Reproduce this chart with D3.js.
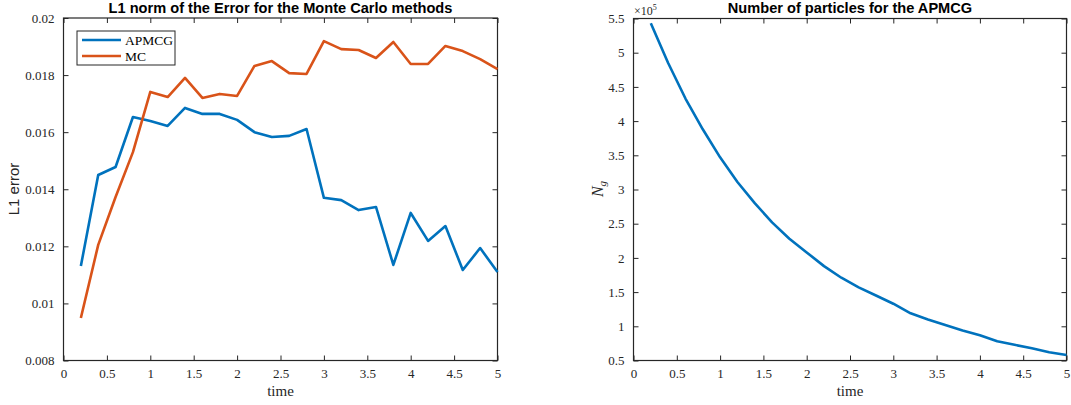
<!DOCTYPE html>
<html><head><meta charset="utf-8">
<script src="https://cdn.jsdelivr.net/npm/d3@7"></script>
<style>
body{margin:0;background:#fff;}
svg{display:block;}
</style></head>
<body>
<svg id="c" width="1071" height="405"></svg>
<script>
const times = [0.2,0.4,0.6,0.8,1.0,1.2,1.4,1.6,1.8,2.0,2.2,2.4,2.6,2.8,3.0,3.2,3.4,3.6,3.8,4.0,4.2,4.4,4.6,4.8,5.0];
const apmcgError = [0.01131,0.0145,0.01478,0.01653,0.01639,0.01622,0.01685,0.01664,0.01664,0.01643,0.0160,0.01583,0.01587,0.01611,0.0137,0.01362,0.01327,0.01338,0.01135,0.01317,0.01219,0.01271,0.01117,0.01194,0.0111];
const mcError = [0.00949,0.01205,0.01373,0.0153,0.01741,0.01723,0.0179,0.0172,0.01734,0.01727,0.01832,0.01849,0.01807,0.01804,0.01919,0.01891,0.01888,0.0186,0.01916,0.01839,0.01839,0.01902,0.01884,0.01856,0.01821];
const particles = [5.43,4.85,4.33,3.88,3.47,3.11,2.80,2.52,2.28,2.08,1.88,1.71,1.57,1.45,1.33,1.19,1.10,1.02,0.94,0.87,0.78,0.73,0.68,0.62,0.58]; // x 1e5
const xTicks = [0,0.5,1,1.5,2,2.5,3,3.5,4,4.5,5];
const leftYTicks = [0.008,0.01,0.012,0.014,0.016,0.018,0.02];
const rightYTicks = [0.5,1,1.5,2,2.5,3,3.5,4,4.5,5,5.5];
const seriesNames = ["APMCG","MC"];
const colors = ["#0072BD","#D95319"];

const svg = d3.select("#c");
const axisColor = "#262626";
const serif = "Liberation Serif, Times New Roman, serif";
const sans = "Liberation Sans, Arial, sans-serif";

function panel(x0, x1, y0, y1, xDom, yDom, yTicks, yFmt) {
  const g = svg.append("g");
  const x = d3.scaleLinear().domain(xDom).range([x0, x1]);
  const y = d3.scaleLinear().domain(yDom).range([y1, y0]);
  const fmtX = d => String(d);
  const mk = (ax) => ax.tickSizeInner(-5).tickSizeOuter(0).tickPadding(8);
  const bottom = g.append("g").attr("transform",`translate(0,${y1})`).call(mk(d3.axisBottom(x).tickValues(xTicks).tickFormat(fmtX)));
  const top = g.append("g").attr("transform",`translate(0,${y0})`).call(mk(d3.axisTop(x).tickValues(xTicks).tickFormat("")));
  const left = g.append("g").attr("transform",`translate(${x0},0)`).call(mk(d3.axisLeft(y).tickValues(yTicks).tickFormat(yFmt)));
  const right = g.append("g").attr("transform",`translate(${x1},0)`).call(mk(d3.axisRight(y).tickValues(yTicks).tickFormat("")));
  [bottom,top,left,right].forEach(a=>{
    a.attr("font-family", serif).attr("font-size", 13);
    a.select(".domain").remove();
    a.selectAll(".tick line").attr("stroke",axisColor).attr("stroke-width",1);
    a.selectAll(".tick text").attr("fill",axisColor);
  });
  left.selectAll(".tick text").attr("dx","-1");
  g.append("rect").attr("x",x0).attr("y",y0).attr("width",x1-x0).attr("height",y1-y0)
    .attr("fill","none").attr("stroke",axisColor).attr("stroke-width",1.2);
  return {g,x,y};
}

// Left panel
const L = panel(63.5, 497.5, 18, 360.5, [0,5], [0.008,0.02], leftYTicks, d => String(+d.toFixed(3)));
[apmcgError, mcError].forEach((vals,i)=>{
  const line = d3.line().x((d,j)=>L.x(times[j])).y(d=>L.y(d));
  svg.append("path").datum(vals).attr("d",line).attr("fill","none")
    .attr("stroke",colors[i]).attr("stroke-width",2.6).attr("stroke-linejoin","round");
});
svg.append("text").attr("x",280.5).attr("y",13).attr("text-anchor","middle")
  .attr("font-family",sans).attr("font-weight","bold").attr("font-size","14.6px").attr("fill","#000")
  .text("L1 norm of the Error for the Monte Carlo methods");
svg.append("text").attr("x",280.5).attr("y",396).attr("text-anchor","middle")
  .attr("font-family",serif).attr("font-size","15px").attr("fill","#262626").text("time");
svg.append("text").attr("transform","translate(19,189) rotate(-90)").attr("text-anchor","middle")
  .attr("font-family",sans).attr("font-size","15px").attr("fill","#262626").text("L1 error");
// legend
const lg = svg.append("g");
lg.append("rect").attr("x",77).attr("y",31).attr("width",98).attr("height",34).attr("fill","#fff").attr("stroke",axisColor).attr("stroke-width",1);
seriesNames.forEach((n,i)=>{
  const yy = 40 + i*16;
  lg.append("line").attr("x1",82).attr("x2",121).attr("y1",yy).attr("y2",yy).attr("stroke",colors[i]).attr("stroke-width",2.6);
  lg.append("text").attr("x",125).attr("y",yy+4.5).attr("font-family",serif).attr("font-size","13.5px").attr("fill","#000").text(n);
});

// Right panel
const R = panel(633.5, 1066.5, 18.5, 360.5, [0,5], [0.5,5.5], rightYTicks, d => String(d));
svg.append("path").datum(particles).attr("d", d3.line().x((d,j)=>R.x(times[j])).y(d=>R.y(d)))
  .attr("fill","none").attr("stroke",colors[0]).attr("stroke-width",2.6).attr("stroke-linejoin","round");
svg.append("text").attr("x",850).attr("y",13).attr("text-anchor","middle")
  .attr("font-family",sans).attr("font-weight","bold").attr("font-size","14.6px").attr("fill","#000")
  .text("Number of particles for the APMCG");
svg.append("text").attr("x",850).attr("y",396).attr("text-anchor","middle")
  .attr("font-family",serif).attr("font-size","15px").attr("fill","#262626").text("time");
const ny = svg.append("text").attr("transform","translate(603,189) rotate(-90)").attr("text-anchor","middle")
  .attr("font-family",serif).attr("font-style","italic").attr("font-size","16px").attr("fill","#262626");
ny.append("tspan").text("N");
ny.append("tspan").attr("font-size","11px").attr("dy","3").text("g");
const ex = svg.append("text").attr("x",634).attr("y",15).attr("font-family",serif).attr("font-size","12px").attr("fill","#262626");
ex.append("tspan").text("×10");
ex.append("tspan").attr("font-size","8px").attr("dy","-5").text("5");
</script>
</body></html>
